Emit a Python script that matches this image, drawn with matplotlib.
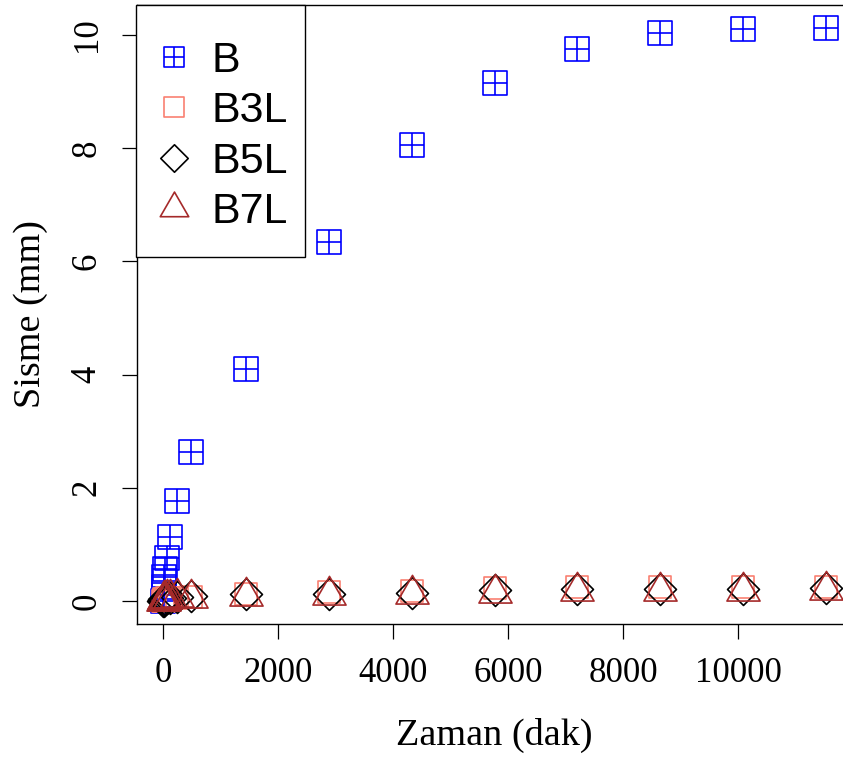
import matplotlib
matplotlib.use("Agg")
import matplotlib.pyplot as plt
from matplotlib.path import Path
from matplotlib.patches import Rectangle
import numpy as np

# ---- data ----
zaman = [0, 1, 5, 15, 30, 60, 120, 240, 480, 1440, 2880, 4320, 5760, 7200, 8640, 10080, 11520]
B   = [0, 0.10, 0.25, 0.42, 0.56, 0.76, 1.13, 1.77, 2.63, 4.10, 6.34, 8.05, 9.16, 9.76, 10.03, 10.10, 10.13]
B3L = [0, 0.01, 0.02, 0.03, 0.04, 0.05, 0.05, 0.06, 0.07, 0.12, 0.16, 0.18, 0.23, 0.24, 0.24, 0.24, 0.25]
B5L = [0, 0.01, 0.02, 0.03, 0.04, 0.05, 0.06, 0.08, 0.09, 0.12, 0.12, 0.14, 0.19, 0.21, 0.21, 0.22, 0.23]
B7L = [0, 0.01, 0.02, 0.03, 0.04, 0.05, 0.06, 0.07, 0.05, 0.09, 0.10, 0.12, 0.15, 0.17, 0.17, 0.18, 0.19]
labels = ["B", "B3L", "B5L", "B7L"]
xticks = [0, 2000, 4000, 6000, 8000, 10000]
yticks = [0, 2, 4, 6, 8, 10]

# ---- markers (R pch 12, 0, 5, 2) ----
sq_plus = Path([(-1, -1), (1, -1), (1, 1), (-1, 1), (-1, -1),
                (0, -1), (0, 1), (-1, 0), (1, 0)],
               [Path.MOVETO, Path.LINETO, Path.LINETO, Path.LINETO, Path.CLOSEPOLY,
                Path.MOVETO, Path.LINETO, Path.MOVETO, Path.LINETO])
square = Path([(-1, -1), (1, -1), (1, 1), (-1, 1), (-1, -1)],
              [Path.MOVETO, Path.LINETO, Path.LINETO, Path.LINETO, Path.CLOSEPOLY])
diamond = Path([(0, 1), (1, 0), (0, -1), (-1, 0), (0, 1)],
               [Path.MOVETO, Path.LINETO, Path.LINETO, Path.LINETO, Path.CLOSEPOLY])
tri = Path([(0, 1), (-0.866, -0.5), (0.866, -0.5), (0, 1)],
           [Path.MOVETO, Path.LINETO, Path.LINETO, Path.CLOSEPOLY])

W, H = 843, 758
fig = plt.figure(figsize=(W / 100, H / 100), dpi=100)
ax_left, ax_top, ax_right, ax_bottom = 137, 5, 852, 624
ax = fig.add_axes([ax_left / W, 1 - ax_bottom / H,
                   (ax_right - ax_left) / W, (ax_bottom - ax_top) / H])

series = [B, B3L, B5L, B7L]
colors = ["#0000FF", "#FA8072", "#000000", "#A52A2A"]
markers = [sq_plus, square, diamond, tri]
sizes = [17.5, 16.5, 23, 27.5]
for y, c, m, s, lab in zip(series, colors, markers, sizes, labels):
    ax.plot(zaman, y, linestyle="none", marker=m, markersize=s,
            markerfacecolor="none", markeredgecolor=c, markeredgewidth=1.2,
            label=lab, clip_on=False)

ax.set_xlim(-461, 11981)
ax.set_ylim(-0.405, 10.53)

serif = ["Liberation Serif", "DejaVu Serif"]
ax.set_xticks(xticks)
ax.set_yticks(yticks)
ax.set_xticklabels([str(v) for v in xticks], fontsize=25, family=serif)
ax.set_yticklabels([str(v) for v in yticks], fontsize=25, family=serif,
                   rotation=90, va="center")
ax.tick_params(axis="both", direction="out", length=11, width=0.9, pad=13)
for sp in ax.spines.values():
    sp.set_linewidth(1.0)

ax.set_xlabel("Zaman (dak)", fontsize=27.5, family=serif, labelpad=20)
ax.set_ylabel("Sisme (mm)", fontsize=27.5, family=serif, labelpad=16)

# legend frame (R style box) and entries
aw, ah = ax_right - ax_left, ax_bottom - ax_top
fx0, fx1, fy0, fy1 = 136, 305, 5, 257
ax.add_patch(Rectangle(((fx0 - ax_left) / aw, 1 - (fy1 - ax_top) / ah),
                       (fx1 - fx0) / aw, (fy1 - fy0) / ah,
                       transform=ax.transAxes, facecolor="white",
                       edgecolor="black", linewidth=1.0, zorder=5, clip_on=False))
leg = ax.legend(loc="upper left", bbox_to_anchor=(165.5 / W, 1 - 41 / H),
                bbox_transform=fig.transFigure,
                prop={"family": ["Liberation Sans", "DejaVu Sans"], "size": 31},
                frameon=False, borderpad=0.0, labelspacing=0.24,
                handletextpad=0.67, handlelength=0.4, borderaxespad=0.0,
                markerscale=0.86)
leg.set_zorder(6)

fig.savefig("out.png", dpi=100)
